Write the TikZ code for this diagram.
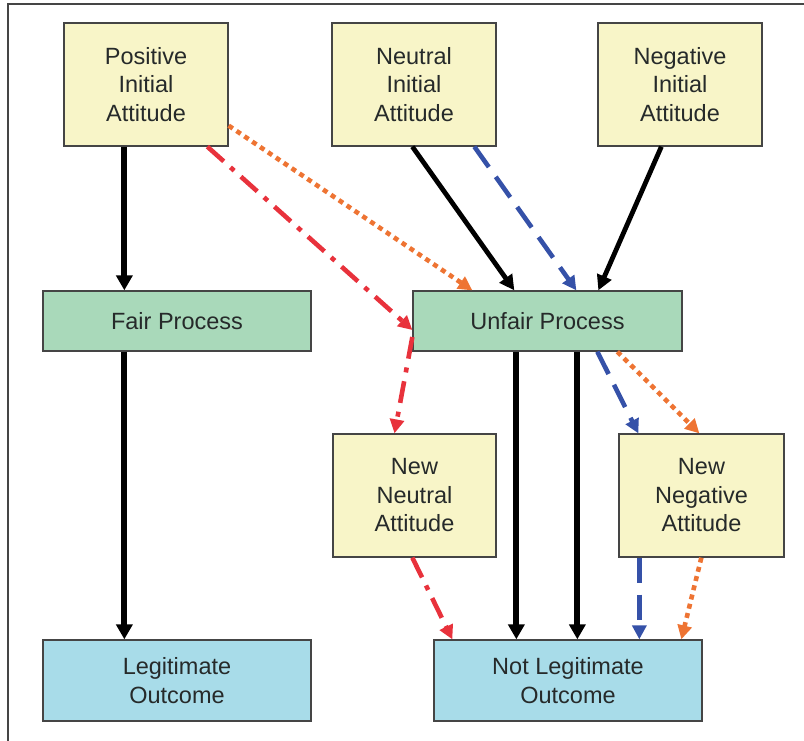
\documentclass[tikz,border=0pt]{standalone}
\usepackage{fontspec}
\setmainfont{Liberation Sans}
\usetikzlibrary{arrows.meta}
\definecolor{yel}{HTML}{F8F5C8}
\definecolor{grn}{HTML}{A9D9BA}
\definecolor{cya}{HTML}{A8DCE9}
\definecolor{edge}{HTML}{454545}
\definecolor{txt}{HTML}{262A2A}
\definecolor{redc}{HTML}{E8323C}
\definecolor{orac}{HTML}{EE7433}
\definecolor{bluc}{HTML}{3551A8}
\tikzset{
  box/.style={draw=edge, line width=1.3pt, align=center, text=txt, inner sep=0pt,
    font=\fontsize{23.5}{28.5}\selectfont},
  attbox/.style={box, fill=yel, minimum width=164pt, minimum height=123pt},
  procbox/.style={box, fill=grn, minimum width=269pt, minimum height=60pt},
  outbox/.style={box, fill=cya, minimum width=268pt, minimum height=81pt},
  blk/.style={line width=6pt, draw=black, -{Triangle[length=15pt,width=16pt]}},
  blkthin/.style={line width=4.8pt, draw=black, -{Triangle[length=15pt,width=15pt]}},
  reddd/.style={line width=4.6pt, draw=redc, dash pattern=on 22pt off 9pt on 5pt off 9pt, -{Triangle[length=14pt,width=14pt]}},
  oradot/.style={line width=4.6pt, draw=orac, dash pattern=on 5pt off 4.5pt, -{Triangle[length=14pt,width=14pt]}},
  bludash/.style={line width=4.6pt, draw=bluc, dash pattern=on 25pt off 12pt, -{Triangle[length=14pt,width=14pt]}},
}
\begin{document}
\begin{tikzpicture}[x=1pt,y=-1pt]
\useasboundingbox (0,0) rectangle (804,740);
\draw[edge, line width=1.3pt] (8,745) -- (8,4) -- (810,4);

\node[attbox] (pos) at (146,84.5) {Positive\\Initial\\Attitude};
\node[attbox] (neu) at (414,84.5) {Neutral\\Initial\\Attitude};
\node[attbox] (neg) at (680,84.5) {Negative\\Initial\\Attitude};
\node[procbox, minimum width=268pt] (fair) at (177,321) {Fair Process};
\node[procbox] (unfair) at (547.5,321) {Unfair Process};
\node[attbox, minimum width=163pt] (newneu) at (414.5,495.5) {New\\Neutral\\Attitude};
\node[attbox, minimum width=165pt] (newneg) at (701.5,495.5) {New\\Negative\\Attitude};
\node[outbox] (legit) at (177,680.5) {Legitimate\\Outcome};
\node[outbox] (notlegit) at (568,680.5) {Not Legitimate\\Outcome};

% left column
\draw[blk] ([xshift=61pt]pos.south west) -- ([xshift=82pt]fair.north west);
\draw[blk] ([xshift=82pt]fair.south west) -- ([xshift=82pt]legit.north west);

% from positive
\draw[reddd] ([xshift=144pt]pos.south west) -- ([yshift=-9pt]unfair.west);
\draw[oradot] ([yshift=21pt]pos.south east) -- ([xshift=60pt]unfair.north west);
\draw[reddd] ([yshift=-16pt]unfair.west) -- ([xshift=-20pt]newneu.north);

% neutral & negative initial
\draw[blkthin] ([xshift=81pt]neu.south west) -- ([xshift=102pt]unfair.north west);
\draw[bludash] ([xshift=143pt]neu.south west) -- ([xshift=164pt]unfair.north west);
\draw[blkthin] ([xshift=64pt]neg.south west) -- ([xshift=186pt]unfair.north west);

% from unfair
\draw[blk] ([xshift=104pt]unfair.south west) -- ([xshift=83pt]notlegit.north west);
\draw[blk] ([xshift=165pt]unfair.south west) -- ([xshift=144pt]notlegit.north west);
\draw[bludash] ([xshift=185pt]unfair.south west) -- ([xshift=20pt]newneg.north west);
\draw[oradot] ([xshift=205pt]unfair.south west) -- ([xshift=81pt]newneg.north west);

% to not legitimate
\draw[bludash] ([xshift=21pt]newneg.south west) -- ([xshift=206pt]notlegit.north west);
\draw[oradot] ([xshift=83pt]newneg.south west) -- ([xshift=248pt]notlegit.north west);
\draw[reddd] ([xshift=80pt]newneu.south west) -- ([xshift=19pt]notlegit.north west);
\end{tikzpicture}
\end{document}
